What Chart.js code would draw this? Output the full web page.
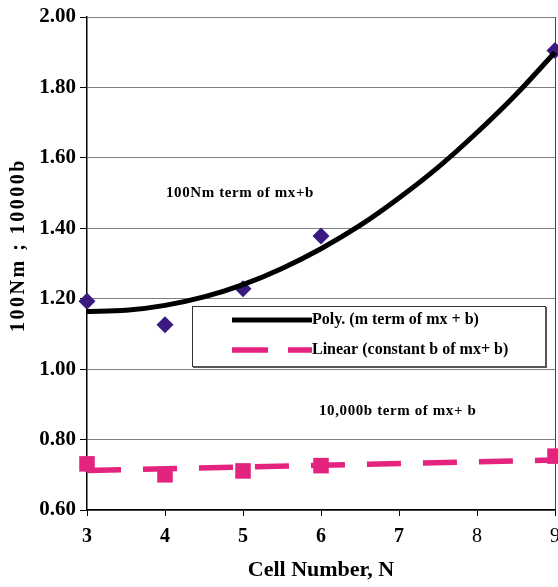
<!DOCTYPE html>
<html>
<head>
<meta charset="utf-8">
<script src="https://cdn.jsdelivr.net/npm/chart.js@4/dist/chart.umd.min.js"></script>
<style>
  html, body { margin: 0; padding: 0; background: #fff; }
  #wrap { width: 558px; height: 587px; position: relative; }
</style>
</head>
<body>
<div id="wrap"><canvas id="cellChart"></canvas></div>
<script>
// measured points
const cellN = [3, 4, 5, 6, 9];
const mTerm = [1.193, 1.126, 1.228, 1.378, 1.905];
const bTerm = [0.731, 0.700, 0.711, 0.726, 0.753];

// trendlines
const polyN = [3, 3.5, 4, 4.5, 5, 5.5, 6, 6.5, 7, 7.5, 8, 8.5, 9];
const polyFit = [1.164, 1.167, 1.181, 1.205, 1.240, 1.286, 1.342, 1.408, 1.486, 1.573, 1.672, 1.780, 1.900];
const linN = [3, 9];
const linFit = [0.712, 0.742];

const yTicks = [0.6, 0.8, 1.0, 1.2, 1.4, 1.6, 1.8, 2.0];
const xTicks = [3, 4, 5, 6, 7, 8, 9];
const boldX = [3, 4, 5, 6, 7];

const labels = ["Poly. (m term of mx + b)", "Linear (constant b of mx+ b)"];
const notes = ["100Nm term of mx+b", "10,000b term of mx+ b"];
const yTitle = "100Nm ; 10000b";
const xTitle = "Cell Number, N";

const pink = '#e4237f';
const indigo = '#3a1a7e';
const serif = "'Liberation Serif', 'Times New Roman', serif";

const pts = (xs, ys) => xs.map((x, i) => ({ x: x, y: ys[i] }));

// legend box, notes and y title drawn on top of the plot
const extras = {
  id: 'extras',
  afterDraw(chart) {
    const ctx = chart.ctx;
    ctx.save();

    // y title
    ctx.translate(19, 245);
    ctx.rotate(-Math.PI / 2);
    ctx.font = "bold 20px " + serif;
    ctx.fillStyle = '#000';
    ctx.textAlign = 'center';
    ctx.textBaseline = 'middle';
    if ('letterSpacing' in ctx) ctx.letterSpacing = '2.5px';
    ctx.fillText(yTitle, 0, 0);
    ctx.restore();

    ctx.save();
    // annotations
    ctx.font = "bold 15px " + serif;
    ctx.fillStyle = '#000';
    ctx.textAlign = 'left';
    ctx.textBaseline = 'middle';
    if ('letterSpacing' in ctx) ctx.letterSpacing = '0.6px';
    ctx.fillText(notes[0], 166, 193);
    ctx.fillText(notes[1], 319, 411);
    if ('letterSpacing' in ctx) ctx.letterSpacing = '0px';

    // legend
    ctx.fillStyle = '#fff';
    ctx.fillRect(192, 306, 354, 61);
    ctx.strokeStyle = '#333';
    ctx.lineWidth = 1;
    ctx.strokeRect(192.5, 306.5, 353, 60);
    ctx.fillStyle = '#555';
    ctx.fillRect(545, 307, 2, 61);
    ctx.fillRect(193, 366, 354, 2);

    ctx.lineCap = 'butt';
    ctx.strokeStyle = '#000';
    ctx.lineWidth = 5;
    ctx.beginPath(); ctx.moveTo(232, 320); ctx.lineTo(312, 320); ctx.stroke();
    ctx.strokeStyle = pink;
    ctx.lineWidth = 5.5;
    ctx.setLineDash([36, 20]);
    ctx.beginPath(); ctx.moveTo(232, 350); ctx.lineTo(312, 350); ctx.stroke();
    ctx.setLineDash([]);

    ctx.font = "bold 16px " + serif;
    ctx.fillStyle = '#000';
    ctx.fillText(labels[0], 312, 320);
    ctx.fillText(labels[1], 312, 350);
    ctx.restore();
  }
};

const ctx = document.getElementById('cellChart').getContext('2d');
const myChart = new Chart(ctx, {
  type: 'scatter',
  data: {
    datasets: [
      { label: labels[0], data: pts(polyN, polyFit), showLine: true, borderColor: '#000', borderWidth: 5,
        pointRadius: 0, cubicInterpolationMode: 'monotone', fill: false, clip: false },
      { label: labels[1], data: pts(linN, linFit), showLine: true, borderColor: pink, borderWidth: 5.5,
        borderDash: [34, 22], pointRadius: 0, fill: false, clip: false },
      { label: 'm', data: pts(cellN, mTerm), pointStyle: 'rectRot', pointRadius: 8.5,
        backgroundColor: indigo, borderColor: indigo, borderWidth: 0, clip: false },
      { label: 'b', data: pts(cellN, bTerm), pointStyle: 'rect', pointRadius: 11,
        backgroundColor: pink, borderColor: pink, borderWidth: 0, clip: false }
    ]
  },
  options: {
    responsive: true,
    maintainAspectRatio: false,
    animation: false,
    layout: { autoPadding: false, padding: { top: 17, right: 3, left: 0, bottom: 0 } },
    plugins: { legend: { display: false }, tooltip: { enabled: false } },
    scales: {
      x: {
        type: 'linear', min: 3, max: 9,
        afterBuildTicks: s => { s.ticks = xTicks.map(v => ({ value: v })); },
        afterFit: s => { s.height = 77; s.paddingLeft = 0; s.paddingRight = 0; },
        ticks: {
          color: '#000', padding: 9,
          font: c => ({ family: serif, size: 20, weight: boldX.includes(c.tick && c.tick.value) ? 'bold' : 'normal' })
        },
        grid: {
          color: c => (c.tick && c.tick.value === 9) ? '#444' : 'rgba(0,0,0,0)',
          tickColor: '#000', tickLength: 6, drawOnChartArea: true
        },
        border: { color: '#000', width: 1.5 },
        title: { display: true, text: xTitle, color: '#000', font: { family: serif, size: 22, weight: 'bold' },
                 padding: { top: 0, bottom: 3 } }
      },
      y: {
        type: 'linear', min: 0.6, max: 2.0,
        afterBuildTicks: s => { s.ticks = yTicks.map(v => ({ value: v })); },
        afterFit: s => { s.width = 87; s.paddingTop = 0; s.paddingBottom = 0; },
        ticks: {
          color: '#000', padding: 4,
          font: { family: serif, size: 21, weight: 'bold' },
          callback: v => v.toFixed(2)
        },
        grid: { color: '#7f7f7f', lineWidth: 1, tickColor: '#000', tickLength: 7 },
        border: { color: '#000', width: 1.5 }
      }
    }
  },
  plugins: [extras]
});
</script>
</body>
</html>
